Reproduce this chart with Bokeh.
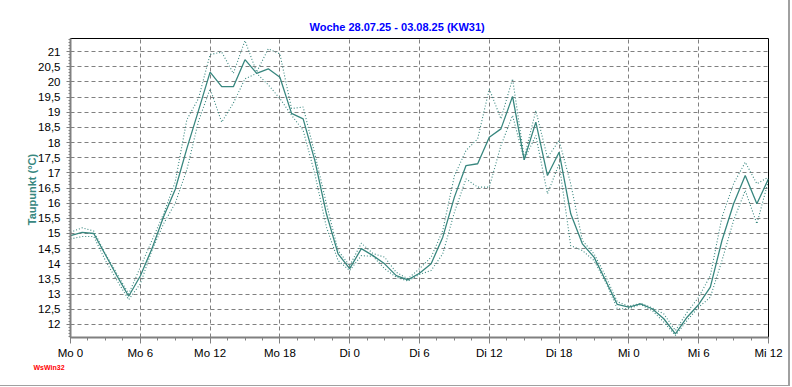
from bokeh.plotting import figure
from bokeh.models import ColumnDataSource, FixedTicker, CustomJSTickFormatter, Title
from bokeh.embed import file_html
from bokeh.resources import INLINE

# ---- data ----
hours = list(range(61))
dew = [14.93, 15.04, 15.0, 14.3, 13.6, 12.93, 13.6, 14.5, 15.55, 16.45,
       17.8, 19.05, 20.32, 19.84, 19.84, 20.73, 20.28, 20.43, 20.15, 18.96,
       18.78, 17.41, 15.65, 14.33, 13.84, 14.5, 14.27, 14.0, 13.61, 13.47,
       13.69, 14.0, 14.88, 16.2, 17.24, 17.3, 18.17, 18.45, 19.52, 17.43,
       18.67, 16.91, 17.68, 15.65, 14.66, 14.22, 13.45, 12.66, 12.57, 12.68,
       12.52, 12.19, 11.69, 12.24, 12.66, 13.23, 14.77, 15.98, 16.91, 15.98, 16.8]
dew_max = [15.04, 15.19, 15.08, 14.33, 13.67, 13.01, 13.89, 14.77, 15.65, 16.7,
           18.75, 19.45, 20.9, 20.98, 20.28, 21.36, 20.32, 21.09, 20.92, 19.12,
           19.17, 17.63, 15.98, 14.44, 13.94, 14.68, 14.34, 14.22, 13.72, 13.51,
           13.84, 14.22, 15.1, 16.9, 17.74, 18.12, 19.77, 18.78, 20.1, 17.5,
           19.05, 17.5, 18.07, 16.64, 14.77, 14.33, 13.6, 12.75, 12.6, 12.7,
           12.55, 12.35, 11.8, 12.4, 12.9, 13.61, 15.54, 16.64, 17.35, 16.64, 16.86]
dew_min = [14.82, 14.9, 14.9, 14.11, 13.45, 12.82, 13.34, 14.44, 15.32, 16.0,
           17.1, 18.7, 19.77, 18.67, 19.3, 20.1, 20.28, 19.9, 19.45, 18.9,
           18.4, 16.97, 15.21, 14.11, 13.78, 14.27, 14.25, 13.84, 13.56, 13.43,
           13.65, 13.78, 14.33, 15.7, 16.8, 16.53, 16.53, 17.9, 18.89, 17.43,
           18.23, 16.31, 17.3, 14.6, 14.44, 14.11, 13.4, 12.52, 12.52, 12.66,
           12.46, 12.08, 11.64, 12.13, 12.57, 12.9, 14.11, 15.43, 16.42, 15.32, 16.75]

x_tick_values = [0, 6, 12, 18, 24, 30, 36, 42, 48, 54, 60]
x_tick_labels = ["Mo 0", "Mo 6", "Mo 12", "Mo 18", "Di 0", "Di 6", "Di 12",
                 "Di 18", "Mi 0", "Mi 6", "Mi 12"]
y_tick_values = [12, 12.5, 13, 13.5, 14, 14.5, 15, 15.5, 16, 16.5, 17, 17.5,
                 18, 18.5, 19, 19.5, 20, 20.5, 21]
title_text = "Woche 28.07.25 - 03.08.25 (KW31)"
y_label = "Taupunkt  (°C)"
logo_text = "WsWin32"

TEAL = "#38877f"
GRAY = "#808080"
FONT = "Liberation Sans"

source = ColumnDataSource(dict(h=hours, dew=dew, dmax=dew_max, dmin=dew_min))

p = figure(width=790, height=386, output_backend="svg", toolbar_location=None,
           x_range=(0, 60), y_range=(11.5714, 21.4286),
           min_border_left=70, min_border_right=22, min_border_top=38,
           min_border_bottom=49,
           styles={"border-right": "2px solid #a0a0a0",
                   "border-bottom": "1px solid #a0a0a0"})
p.background_fill_color = "white"
p.border_fill_color = "white"
p.outline_line_color = "black"
p.outline_line_width = 1

# title
p.title.text = title_text
p.title.align = "left"
p.title.offset = 239
p.title.text_font = FONT
p.title.text_font_size = "11px"
p.title.text_font_style = "bold"
p.title.text_color = "#0000ff"
p.title.standoff = 11

# axes
xa = p.xaxis[0]
ya = p.yaxis[0]
xa.ticker = FixedTicker(ticks=x_tick_values,
                        minor_ticks=[i * 1.5 for i in range(41)])
xa.major_label_overrides = {v: s for v, s in zip(x_tick_values, x_tick_labels)}
ya.ticker = FixedTicker(ticks=y_tick_values,
                        minor_ticks=[round(11.6 + 0.1 * i, 1) for i in range(99)])
ya.formatter = CustomJSTickFormatter(code="return String(tick).replace('.', ',');")

for ax in (xa, ya):
    ax.axis_line_color = GRAY
    ax.axis_line_width = 2
    ax.major_tick_line_color = GRAY
    ax.minor_tick_line_color = GRAY
    ax.major_tick_in = 0
    ax.minor_tick_in = 0
    ax.major_label_text_font = FONT
    ax.major_label_text_font_size = "11.5px"
    ax.major_label_text_color = "black"

xa.major_tick_out = 6
xa.minor_tick_out = 3
xa.major_label_standoff = 3
ya.major_tick_out = 4
ya.minor_tick_out = 2
ya.major_label_standoff = 6
ya.axis_label = y_label
ya.axis_label_text_font = FONT
ya.axis_label_text_font_size = "11px"
ya.axis_label_text_font_style = "bold"
ya.axis_label_text_color = TEAL
ya.axis_label_standoff = -3

# grid
for g in (p.xgrid[0], p.ygrid[0]):
    g.grid_line_color = GRAY
    g.grid_line_dash = "4 3"
    g.grid_line_width = 1

# lines
p.line("h", "dmax", source=source, line_color=TEAL, line_width=1.1, line_dash="1 2")
p.line("h", "dmin", source=source, line_color=TEAL, line_width=1.1, line_dash="1 2")
p.line("h", "dew", source=source, line_color=TEAL, line_width=1.3)

# logo
p.add_layout(Title(text=logo_text, align="left", offset=-37, standoff=0,
                   text_font=FONT, text_font_size="7px", text_font_style="bold",
                   text_color="red"), "below")

open("out.html", "w").write(file_html(p, INLINE))
